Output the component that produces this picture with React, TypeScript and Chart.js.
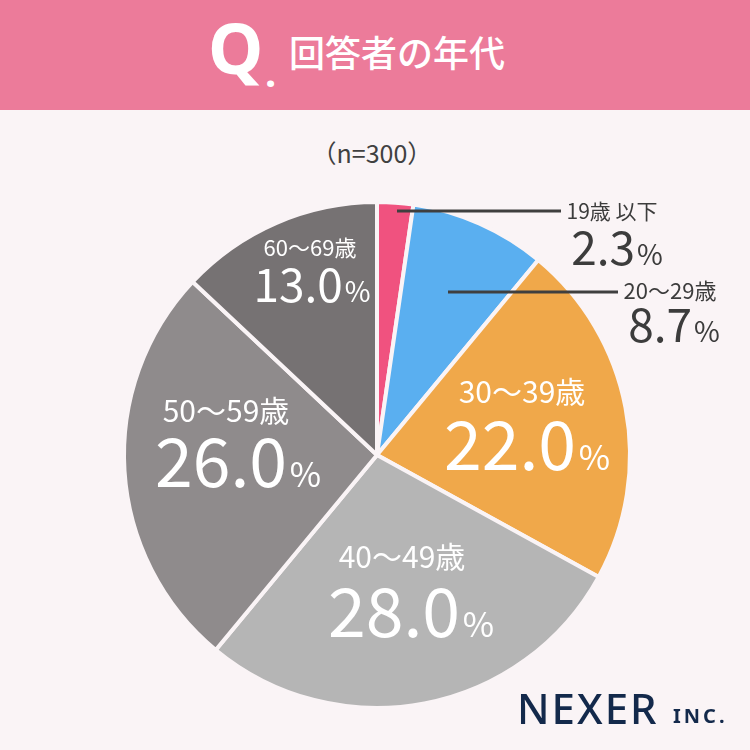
import React, { useEffect, useRef } from "react";
import { Chart, registerables } from "chart.js";

Chart.register(...registerables);

// ---- data ----
const title = "回答者の年代";
const sampleNote = "（n=300）";
const categories = ["19歳 以下", "20～29歳", "30～39歳", "40～49歳", "50～59歳", "60～69歳"];
const values = [2.3, 8.7, 22.0, 28.0, 26.0, 13.0];

// ---- style ----
const sliceColors = ["#f0527f", "#5aaff0", "#f0a84a", "#b5b5b5", "#8f8b8c", "#767273"];
const BG = "#faf4f6";
const HEADER = "#ec7b9a";
const JP = '"Noto Sans CJK JP", "Noto Sans", sans-serif';

// label layout offsets (px, relative to pie centre)
type Layout = {
  lx: number; ly: number; size: number;
  vx: number; vy: number; vsize: number; psize: number;
  color: string; line?: [number, number, number];
};
const labelLayout: Layout[] = [
  { lx: 235, ly: -236, size: 21, vx: 240, vy: -190, vsize: 46, psize: 28, color: "#3c3c3c", line: [20, -244, 184] },
  { lx: 293, ly: -156, size: 22, vx: 297, vy: -113, vsize: 46, psize: 28, color: "#3c3c3c", line: [71, -163, 241] },
  { lx: 145, ly: -52, size: 30, vx: 150, vy: 15, vsize: 68, psize: 34, color: "#ffffff" },
  { lx: 25, ly: 113, size: 30, vx: 34, vy: 182, vsize: 68, psize: 34, color: "#ffffff" },
  { lx: -151, ly: -33, size: 30, vx: -139, vy: 32, vsize: 68, psize: 34, color: "#ffffff" },
  { lx: -67, ly: -199, size: 22, vx: -65, vy: -153, vsize: 46, psize: 28, color: "#ffffff" },
];

const labelPlugin = {
  id: "sliceLabels",
  afterDatasetsDraw(chart: any) {
    const ctx = chart.ctx as CanvasRenderingContext2D;
    const meta = chart.getDatasetMeta(0);
    meta.data.forEach((arc: any, i: number) => {
      const L = labelLayout[i];
      const { x, y } = arc.getProps(["x", "y"], true);
      ctx.save();
      if (L.line) {
        ctx.strokeStyle = "#3f3f3f";
        ctx.lineWidth = 3;
        ctx.beginPath();
        ctx.moveTo(x + L.line[0], y + L.line[1]);
        ctx.lineTo(x + L.line[2], y + L.line[1]);
        ctx.stroke();
      }
      ctx.fillStyle = L.color;
      ctx.textBaseline = "alphabetic";
      ctx.textAlign = "center";
      ctx.font = `400 ${L.size}px ${JP}`;
      ctx.fillText(categories[i], x + L.lx, y + L.ly);
      const num = values[i].toFixed(1);
      ctx.font = `400 ${L.vsize}px ${JP}`;
      const wn = ctx.measureText(num).width;
      ctx.font = `400 ${L.psize}px ${JP}`;
      const wp = ctx.measureText("%").width;
      const gap = L.vsize * 0.04;
      const sx = x + L.vx - (wn + gap + wp) / 2;
      ctx.textAlign = "left";
      ctx.font = `400 ${L.vsize}px ${JP}`;
      ctx.fillText(num, sx, y + L.vy);
      ctx.font = `400 ${L.psize}px ${JP}`;
      ctx.fillText("%", sx + wn + gap, y + L.vy);
      ctx.restore();
    });
  },
};

export default function App() {
  const ref = useRef<HTMLCanvasElement>(null);

  useEffect(() => {
    if (!ref.current) return;
    const chart = new Chart(ref.current, {
      type: "pie",
      data: {
        labels: categories,
        datasets: [
          {
            data: values,
            backgroundColor: sliceColors,
            borderColor: BG,
            borderWidth: 4,
          },
        ],
      },
      options: {
        responsive: false,
        animation: false,
        layout: { padding: { left: 122, top: 200, right: 118, bottom: 40 } },
        plugins: {
          legend: { display: false },
          tooltip: { enabled: false },
        },
      },
      plugins: [labelPlugin],
    });
    return () => chart.destroy();
  }, []);

  const abs = (s: React.CSSProperties): React.CSSProperties => ({
    position: "absolute",
    whiteSpace: "nowrap",
    lineHeight: 1,
    margin: 0,
    ...s,
  });

  return (
    <div
      style={{
        position: "fixed",
        left: 0,
        top: 0,
        width: 750,
        height: 750,
        background: BG,
        overflow: "hidden",
      }}
    >
      <div style={{ position: "absolute", left: 0, top: 0, width: 750, height: 110, background: HEADER }} />
      <div style={abs({ left: 208, top: 12, fontFamily: '"Noto Sans", sans-serif', fontWeight: 700, fontSize: 70, color: "#fff" })}>Q</div>
      <div style={abs({ left: 265, top: 52, fontFamily: '"Noto Sans", sans-serif', fontWeight: 700, fontSize: 40, color: "#fff" })}>.</div>
      <div style={abs({ left: 289, top: 33, fontFamily: JP, fontWeight: 500, fontSize: 36, color: "#fff" })}>{title}</div>
      <div style={abs({ left: 272, width: 200, textAlign: "center", top: 140, fontFamily: JP, fontSize: 25, color: "#404040" })}>{sampleNote}</div>
      <canvas ref={ref} width={750} height={750} style={{ position: "absolute", left: 0, top: 0, width: 750, height: 750 }} />
      <div style={abs({ left: 517, top: 687, fontFamily: '"Noto Sans", sans-serif', fontWeight: 500, fontSize: 42, letterSpacing: 2, color: "#13294b" })}>NEXER</div>
      <div style={abs({ left: 673, top: 706, fontFamily: '"Noto Sans", sans-serif', fontWeight: 700, fontSize: 20, letterSpacing: 3, color: "#13294b" })}>INC.</div>
    </div>
  );
}
